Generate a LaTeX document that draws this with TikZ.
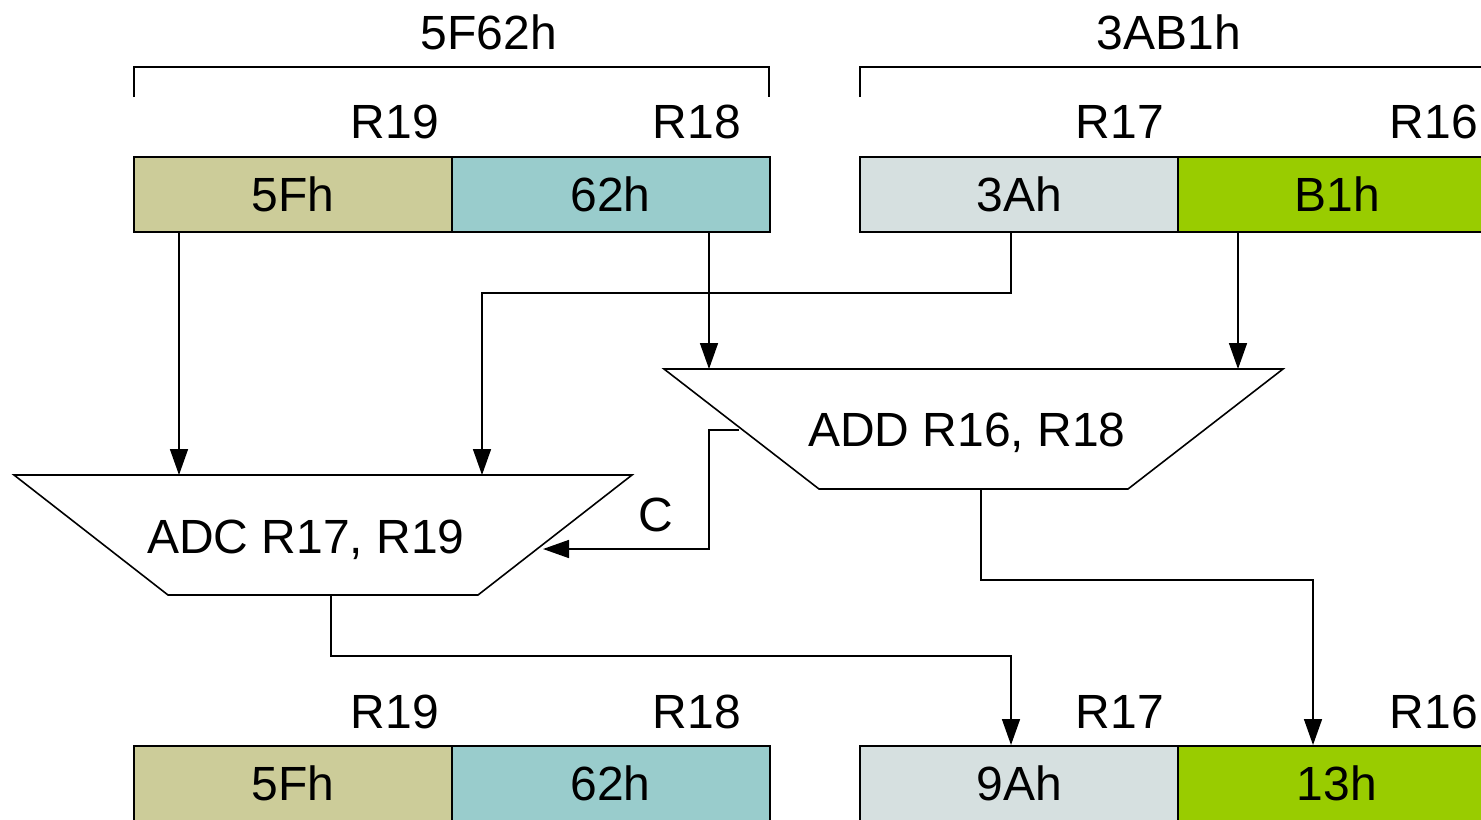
\documentclass[tikz,border=0pt]{standalone}
\usepackage{fontspec}
\setmainfont{Liberation Sans}
\usetikzlibrary{arrows.meta,calc}
\definecolor{regolive}{HTML}{CCCC99}
\definecolor{regteal}{HTML}{99CCCC}
\definecolor{regpale}{HTML}{D6E0E0}
\definecolor{reglime}{HTML}{99CC00}
\begin{document}
\begin{tikzpicture}[x=0.5pt,y=-0.5pt,
  every node/.style={font=\fontsize{24}{28}\selectfont, inner sep=0pt, text depth=0pt},
  cell/.style={draw=black, line width=1pt, minimum width=159pt, minimum height=37.5pt},
  wire/.style={line width=0.8pt},
  arr/.style={wire, -{Triangle[length=13pt,width=9pt]}},
  alu/.style={draw=black, line width=0.8pt, fill=white}]
\useasboundingbox (0,0) rectangle (1481,819);

% word brackets
\draw[wire] (134,97) -- (134,67) -- (769,67) -- (769,97);
\draw[wire] (860,97) -- (860,67) -- (1500,67);
\node (w1) at (489,32) {5F62h};
\node (w2) at (1169,32) {3AB1h};

% register names, upper row
\node (t19) at (395,122) {R19};
\node (t18) at (697,122) {R18};
\node (t17) at (1120,122) {R17};
\node (t16) at (1434,122) {R16};

% register cells, upper row
\node[cell, fill=regolive] (a19) at (293,194.5) {5Fh};
\node[cell, fill=regteal]  (a18) at (610.5,194.5) {62h};
\node[cell, fill=regpale]  (a17) at (1019,194.5) {3Ah};
\node[cell, fill=reglime]  (a16) at (1337,194.5) {B1h};

% ADD unit
\coordinate (addTL) at (664,369);
\coordinate (addTR) at (1283,369);
\coordinate (addBR) at (1128,489);
\coordinate (addBL) at (819,489);
\draw[alu] (addTL) -- (addTR) -- (addBR) -- (addBL) -- cycle;
\node (add) at (967,430) {ADD R16, R18};

% ADC unit
\coordinate (adcTL) at (14,475);
\coordinate (adcTR) at (632,475);
\coordinate (adcBR) at (478,595);
\coordinate (adcBL) at (168,595);
\draw[alu] (adcTL) -- (adcTR) -- (adcBR) -- (adcBL) -- cycle;
\node (adc) at (306,537) {ADC R17, R19};

% operand inputs
\coordinate (adcIn1) at (179,475);
\coordinate (adcIn2) at (482,475);
\coordinate (addIn1) at (709,369);
\coordinate (addIn2) at (1238,369);
\coordinate (r17bend) at (1011,293);
\draw[arr] (a19.south -| adcIn1) -- (adcIn1);
\draw[arr] (a18.south -| addIn1) -- (addIn1);
\draw[arr] (a16.south -| addIn2) -- (addIn2);
\draw[arr] (a17.south -| r17bend) -- (r17bend) -| (adcIn2);

% carry
\coordinate (cOut) at (739,430);
\coordinate (cBend) at (709,430);
\coordinate (cIn) at (543,549);
\draw[arr] (cOut) -- (cBend) |- (cIn);
\node (clab) at (656,515) {C};

% register names, lower row
\node (u19) at (395,712) {R19};
\node (u18) at (697,712) {R18};
\node (u17) at (1120,712) {R17};
\node (u16) at (1434,712) {R16};

% register cells, lower row
\node[cell, fill=regolive] (b19) at (293,783.5) {5Fh};
\node[cell, fill=regteal]  (b18) at (610.5,783.5) {62h};
\node[cell, fill=regpale]  (b17) at (1019,783.5) {9Ah};
\node[cell, fill=reglime]  (b16) at (1337,783.5) {13h};

% results
\coordinate (adcOut) at (331,595);
\coordinate (j1) at (1011,656);
\coordinate (addOut) at (981,489);
\coordinate (j2) at (1313,580);
\draw[arr] (adcOut) |- (j1) -- (b17.north -| j1);
\draw[arr] (addOut) |- (j2) -- (b16.north -| j2);
\end{tikzpicture}
\end{document}
